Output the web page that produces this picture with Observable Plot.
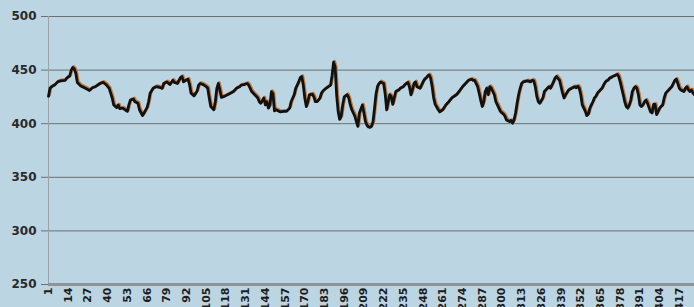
<!DOCTYPE html>
<html>
<head>
<meta charset="utf-8">
<script src="https://cdn.jsdelivr.net/npm/d3@7"></script>
<script src="https://cdn.jsdelivr.net/npm/@observablehq/plot@0.6"></script>
<style>
  html, body { margin: 0; padding: 0; background: #bcd5e3; }
  #chart { width: 694px; height: 307px; overflow: hidden; }
  svg text { font-weight: bold; }
</style>
</head>
<body>
<div id="chart"></div>
<script>
const days = [1,2,3,5,7,9,12,13,15,16,17,18,19,20,22,24,26,28,30,32,35,37,39,41,42,43,44,46,47,48,50,52,53,54,55,57,58,60,61,63,64,66,67,68,70,72,74,76,77,79,81,83,84,86,88,89,90,91,93,94,95,97,99,100,101,103,105,106,107,108,110,111,112,113,114,115,117,119,121,123,125,127,128,130,132,133,134,135,137,139,140,141,143,144,145,146,147,148,149,150,151,154,156,158,160,161,163,164,166,167,168,169,170,171,172,173,175,176,177,178,179,180,181,182,184,187,188,189,190,191,192,193,194,195,196,198,199,200,201,202,203,204,205,206,208,209,210,211,212,213,214,215,216,217,218,219,220,222,223,224,225,226,227,228,229,230,232,233,235,236,238,239,240,241,242,243,244,246,247,248,249,250,251,252,253,254,255,256,258,259,261,263,265,267,270,272,274,276,278,280,281,282,284,285,286,287,288,289,290,291,292,293,295,296,297,298,299,300,301,302,303,305,306,307,308,309,310,311,312,313,314,317,319,320,321,322,323,324,325,327,328,329,330,331,332,333,334,335,336,338,339,340,341,342,344,346,348,349,350,351,352,353,355,356,357,358,359,360,361,362,363,364,366,367,368,369,370,371,372,373,374,376,377,378,379,380,381,382,383,384,385,386,387,388,389,390,391,392,393,394,395,396,397,398,399,400,401,402,403,404,405,406,407,408,410,411,412,413,414,415,416,417,418,420,421,422,423,424,425,426,427];
const values = [425.5,433,434.5,436,439,440,440.5,442.5,444.5,450,452.5,451,447,438.5,435.5,434,432.5,431,433.5,434.5,437.5,438.5,436.5,433,428.5,424,417.5,415,417.5,414,414.5,412.5,411.5,417.5,422,423,420.5,419,413,407.5,410,415,420.5,428.5,433,434.5,434,433,437.5,439,436.5,440.5,438.5,437.5,443,444,439,440,441.5,436.5,428.5,426,430.5,436,437.5,436.5,434.5,433,424,416,413,420.5,433,437.5,431.5,424.5,425.5,427,428.5,430,433,434.5,436,436.5,437.5,436,433,430,427,424,420.5,419,424,417.5,420.5,414.5,417.5,430,428,412,413,411,411.5,411.5,414.5,420.5,427,433,439,443,444,436,424,416,420.5,427,427.5,425,420.5,420.5,422,424,428.5,430.5,433,436,445,457.5,453,427,411.5,404,407,417.5,425,427,424,417.5,413,410,407,402,397.5,410,417.5,410,402,398.5,397,396.5,397.5,402,414.5,428,435,437.5,439,437.5,428,413,420.5,427,425.5,418,424,430,431.5,433,434.5,436.5,438.5,434.5,427,431.5,437.5,439,434.5,433,436,439,441.5,442.5,444.5,445.5,442.5,434.5,424,418,413,411,413,417.5,420.5,424,427,430.5,434.5,437.5,440.5,441.5,440.5,440.5,434.5,428.5,422,416,420.5,430,433,427,434.5,433,427,420.5,417.5,414.5,411.5,410,409,407,403.5,402,403,400.5,403.5,410,419,427,433,437.5,439,440,439,440.5,440,434.5,425.5,420.5,419,424,430,431.5,433,434.5,433,436,439,442.5,444,440.5,434.5,428.5,424,427,431.5,433,434.5,433.5,435,433,427,417.5,411.5,407.5,409,414.5,417.5,420.5,424,425.5,428.5,430,433,436,438.5,440,440.5,442.5,443,444,444.5,446,444,439,433,427,420.5,416,414.5,417.5,422,430,433,434.5,433,427,417.5,416,417.5,420.5,422,419,415,411,410,418,418,408.5,411.5,414.5,416,417.5,424,428.5,431.5,433,434.5,437.5,440.5,441.5,437.5,433,431.5,430,433,434.5,431.5,430,431.5,428.5,427];
const yTicks = [250,300,350,400,450,500];
const xTicks = [1,14,27,40,53,66,79,92,105,118,131,144,157,170,183,196,209,222,235,248,261,274,287,300,313,326,339,352,365,378,391,404,417];

const data = days.map((d, i) => ({day: d, value: values[i]}));

const chart = Plot.plot({
  width: 694,
  height: 307,
  marginLeft: 48,
  marginRight: 0,
  marginTop: 16,
  marginBottom: 23,
  style: {background: "transparent", fontFamily: "DejaVu Sans, sans-serif", color: "#222"},
  x: {domain: [1, 427]},
  y: {domain: [250, 500]},
  marks: [
    Plot.gridY(yTicks, {stroke: "#6b6f72", strokeOpacity: 1, strokeWidth: 1}),
    Plot.ruleX([1], {stroke: "#9aa3a8", strokeWidth: 1}),
    Plot.axisY(yTicks, {tickSize: 7, tickPadding: 5, fontSize: 12, fontWeight: "bold", stroke: "#6b6f72", fill: "#2a2a2a", label: null}),
    Plot.axisX(xTicks, {tickSize: 0, tickPadding: 3, tickRotate: -90, fontSize: 11, fontWeight: "bold", fill: "#1e1e1e", label: null}),
    Plot.ruleY([250], {stroke: "#8f9498", strokeWidth: 3}),
    Plot.line(data, {x: "day", y: "value", stroke: "#c57a3e", strokeWidth: 2.8, dx: 1, dy: -1}),
    Plot.line(data, {x: "day", y: "value", stroke: "#111111", strokeWidth: 2.8})
  ]
});
document.getElementById("chart").appendChild(chart);
</script>
</body>
</html>
